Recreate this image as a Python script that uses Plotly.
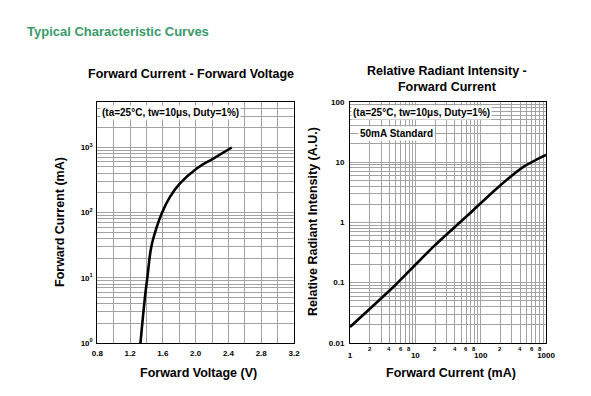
import numpy as np
import plotly.graph_objects as go

# ---- data ----
vf_volt = [1.327, 1.382, 1.41, 1.452, 1.483, 1.586, 1.687, 1.809, 2.013, 2.215, 2.44]
vf_current = [1, 5.1, 9.9, 26.6, 40, 97, 174, 279, 473, 673, 993]

ri_current = [1, 4.35, 8.8, 20, 77, 176, 450, 1000]
ri_intensity = [0.0184, 0.080, 0.172, 0.419, 1.59, 3.65, 8.3, 13.1]

left_xticks = [0.8, 1.2, 1.6, 2.0, 2.4, 2.8, 3.2]
left_yticks = [1, 10, 100, 1000]
left_yticktext = ["10<sup>0</sup>", "10<sup>1</sup>", "10<sup>2</sup>", "10<sup>3</sup>"]
right_xticks = [1, 10, 100, 1000]
right_yticks = [0.01, 0.1, 1, 10, 100]
right_yticktext = ["0.01", "0.1", "1", "10", "100"]
minor_digits = [2, 4, 6, 8]

FONT = "Liberation Sans, Arial, sans-serif"
GRID = "#a3a3a3"

def minor_vals(decades, extra=()):
    vals = [m * d for d in decades for m in range(2, 10)]
    return vals + list(extra)

fig = go.Figure()
fig.add_trace(go.Scatter(x=vf_volt, y=vf_current, mode="lines",
                         line=dict(color="black", width=2.6, shape="spline", smoothing=1.3),
                         xaxis="x", yaxis="y", showlegend=False))
fig.add_trace(go.Scatter(x=ri_current, y=ri_intensity, mode="lines",
                         line=dict(color="black", width=2.6, shape="spline", smoothing=0.6),
                         xaxis="x2", yaxis="y2", showlegend=False))

y0, y1 = 0.1338, 0.7432
common = dict(showline=True, linecolor="black", linewidth=1, mirror=True, automargin=False,
              showgrid=True, gridcolor=GRID, gridwidth=1, zeroline=False,
              ticks="", tickfont=dict(family=FONT, size=8, color="black"))

fig.update_layout(
    width=591, height=396, margin=dict(l=0, r=0, t=0, b=0, autoexpand=False),
    paper_bgcolor="white", plot_bgcolor="white",
    font=dict(family=FONT, color="black"),
    xaxis=dict(domain=[0.1646, 0.4975], range=[0.8, 3.2], tickvals=left_xticks,
               ticktext=[f"<b>{v:.1f}</b>" for v in left_xticks],
               minor=dict(dtick=0.2, tick0=0.8, showgrid=True, gridcolor=GRID, gridwidth=1),
               anchor="y", ticklabelstandoff=2, **common),
    yaxis=dict(domain=[y0, y1], type="log", range=[0, np.log10(5000)], tickvals=left_yticks,
               ticktext=[f"<b>{t}</b>" for t in left_yticktext],
               minor=dict(tickvals=minor_vals([1, 10, 100], (2000, 3000, 4000)),
                          showgrid=True, gridcolor=GRID, gridwidth=1),
               anchor="x", ticklabelstandoff=2, **common),
    xaxis2=dict(domain=[0.5922, 0.9239], type="log", range=[0, 3], tickvals=right_xticks,
                ticktext=[f"<b>{v}</b>" for v in right_xticks],
                minor=dict(tickvals=minor_vals([1, 10, 100]), showgrid=True, gridcolor=GRID, gridwidth=1),
                anchor="y2", ticklabelstandoff=4, **common),
    yaxis2=dict(domain=[y0, y1], type="log", range=[-2, 2], tickvals=right_yticks,
                ticktext=[f"<b>{t}</b>" for t in right_yticktext],
                minor=dict(tickvals=minor_vals([0.01, 0.1, 1, 10]), showgrid=True, gridcolor=GRID, gridwidth=1),
                anchor="x2", ticklabelstandoff=3, **common),
)

def paper(x, y):
    return x / 591, 1 - y / 396

ann = []
def text(t, px, py, size, xanchor="center", color="black", angle=0):
    x, y = paper(px, py)
    ann.append(dict(text=t, x=x, y=y, xref="paper", yref="paper", xanchor=xanchor, yanchor="middle",
                    showarrow=False, textangle=angle, font=dict(size=size, color=color, family=FONT)))

text("<b>Typical Characteristic Curves</b>", 25, 31, 13, xanchor="left", color="#3a9a6a")
text("<b>Forward Current - Forward Voltage</b>", 190.5, 74, 12.5)
text("<b>Relative Radiant Intensity -<br>Forward Current</b>", 447, 79.5, 12.5)
text("<b>Forward Voltage (V)</b>", 199, 372.5, 12.5)
text("<b>Forward Current (mA)</b>", 451, 372.5, 12.5)
text("<b>Forward Current (mA)</b>", 60, 222, 12.5, angle=-90)
text("<b>Relative Radiant Intensity (A.U.)</b>", 313, 222, 12.5, angle=-90)

cond = "<b>(ta=25°C, tw=10μs, Duty=1%)</b>"
ann.append(dict(text=cond, x=0.013, y=0.985, xref="x domain", yref="y domain",
                xanchor="left", yanchor="top", showarrow=False, bgcolor="white", borderpad=1,
                font=dict(size=10, family=FONT)))
ann.append(dict(text=cond, x=0.003, y=0.985, xref="x2 domain", yref="y2 domain",
                xanchor="left", yanchor="top", showarrow=False, bgcolor="white", borderpad=1,
                font=dict(size=10, family=FONT)))
ann.append(dict(text="<b>50mA Standard</b>", x=0.04, y=0.9, xref="x2 domain", yref="y2 domain",
                xanchor="left", yanchor="top", showarrow=False, bgcolor="white", borderpad=1,
                font=dict(size=10, family=FONT)))
for d in [1, 10, 100]:
    for m in minor_digits:
        ann.append(dict(text=f"<b>{m}</b>", x=np.log10(m * d), y=-0.004, xref="x2", yref="y2 domain",
                        xanchor="center", yanchor="top", showarrow=False,
                        font=dict(size=6, family=FONT)))
fig.update_layout(annotations=ann)

fig.write_html("out.html", config={"displayModeBar": False},
               post_script="document.body.style.margin='0';document.body.style.padding='0';")
